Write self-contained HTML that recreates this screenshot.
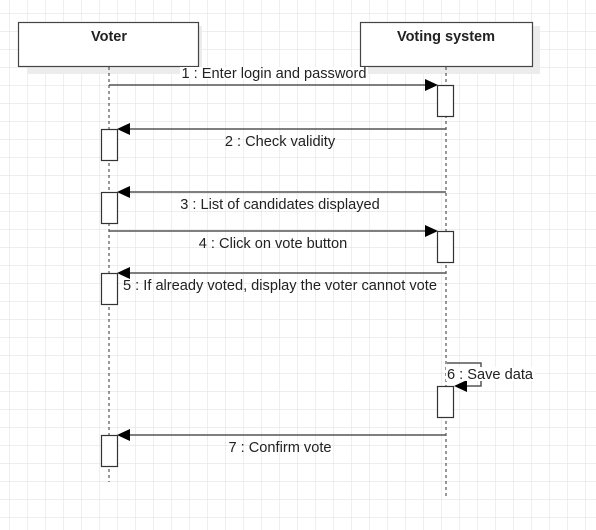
<!DOCTYPE html>
<html><head><style>
html,body{margin:0;padding:0;background:#fff;}
svg{display:block;}
text{font-family:"Liberation Sans",Arial,sans-serif;font-size:14.6px;fill:#222;}
</style></head><body>
<svg width="596" height="530" viewBox="0 0 596 530" xmlns="http://www.w3.org/2000/svg">
<defs>
<pattern id="g" x="9" y="13" width="18" height="18" patternUnits="userSpaceOnUse">
<path d="M0 0H18M0 0V18" stroke="#e4e4e4" stroke-width="1.2" fill="none"/>
</pattern>
</defs>
<rect width="596" height="530" fill="url(#g)"/>
<rect x="27" y="26" width="175" height="48" fill="#ececec"/>
<rect x="364" y="26" width="176" height="48" fill="#ececec"/>
<rect x="18.5" y="22.5" width="180" height="44" fill="#fff" stroke="#444" stroke-width="1.2"/>
<rect x="360.5" y="22.5" width="172" height="44" fill="#fff" stroke="#444" stroke-width="1.2"/>
<text x="109" y="41" text-anchor="middle" style="font-weight:bold;font-size:14.5px">Voter</text>
<text x="446" y="41" text-anchor="middle" style="font-weight:bold;font-size:14.5px">Voting system</text>
<line x1="109" y1="67" x2="109" y2="482" stroke="#333" stroke-dasharray="3,3"/>
<line x1="446" y1="67" x2="446" y2="497" stroke="#333" stroke-dasharray="3,3"/>
<g stroke="#555" stroke-width="1.5" fill="none">
<line x1="109" y1="85" x2="430" y2="85"/>
<line x1="446" y1="129" x2="125" y2="129"/>
<line x1="446" y1="192" x2="125" y2="192"/>
<line x1="109" y1="231" x2="430" y2="231"/>
<line x1="446" y1="273" x2="125" y2="273"/>
<polyline points="447,363 481,363 481,386 462,386"/>
<line x1="446" y1="435" x2="125" y2="435"/>
</g>
<g fill="#000">
<polygon points="438,85 425,79 425,91"/>
<polygon points="117,129 130,123 130,135"/>
<polygon points="117,192 130,186 130,198"/>
<polygon points="438,231 425,225 425,237"/>
<polygon points="117,273 130,267 130,279"/>
<polygon points="454,386 467,380 467,392"/>
<polygon points="117,435 130,429 130,441"/>
</g>
<g fill="#fff" stroke="#333" stroke-width="1.2">
<rect x="437.5" y="85.5" width="16" height="31"/>
<rect x="101.5" y="129.5" width="16" height="31"/>
<rect x="101.5" y="192.5" width="16" height="31"/>
<rect x="437.5" y="231.5" width="16" height="31"/>
<rect x="101.5" y="273.5" width="16" height="31"/>
<rect x="437.5" y="386.5" width="16" height="31"/>
<rect x="101.5" y="435.5" width="16" height="31"/>
</g>
<rect x="180" y="67" width="188" height="12" fill="#fff"/>
<text x="274" y="78" text-anchor="middle">1 : Enter login and password</text>
<text x="280" y="146" text-anchor="middle">2 : Check validity</text>
<text x="280" y="209" text-anchor="middle">3 : List of candidates displayed</text>
<text x="273" y="248" text-anchor="middle">4 : Click on vote button</text>
<text x="123" y="290">5 : If already voted, display the voter cannot vote</text>
<rect x="446" y="367" width="89" height="14" fill="#fff"/>
<text x="447" y="379">6 : Save data</text>
<text x="280" y="452" text-anchor="middle">7 : Confirm vote</text>
</svg>
</body></html>
